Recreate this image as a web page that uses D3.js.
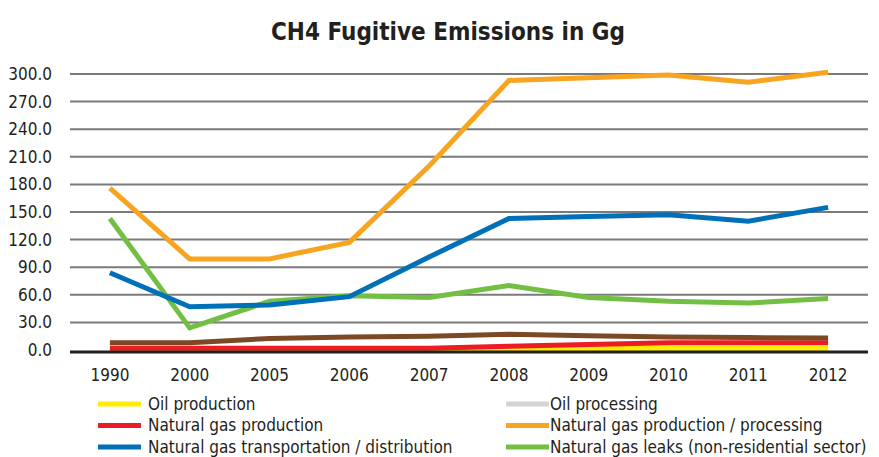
<!DOCTYPE html>
<html>
<head>
<meta charset="utf-8">
<script src="https://cdn.jsdelivr.net/npm/d3@7"></script>
<style>
  body { margin: 0; background: #fff; }
  text { font-family: "Liberation Sans Narrow", "Arial Narrow", "DejaVu Sans Condensed", sans-serif; fill: #231f20; }
</style>
</head>
<body>
<div id="target"></div>
<script>
const width = 879;
const height = 457;

const years = ['1990', '2000', '2005', '2006', '2007', '2008', '2009', '2010', '2011', '2012'];
const yTicks = [0, 30, 60, 90, 120, 150, 180, 210, 240, 270, 300];

const oilProduction = [0, 0, 0, 0, 0, 0.5, 1.5, 2, 2, 2];
const oilProcessing = [0, 0, 0, 0, 0, 0, 0, 0, 0, 0];
const gasProduction = [2, 2, 2, 2, 2, 4, 6, 8, 8, 8];
const gasProcessing = [176, 99, 99, 117, 200, 293, 296, 299, 291, 302];
const gasTransport = [84, 47, 49, 58, 101, 143, 145, 147, 140, 155];
const gasLeaks = [143, 24, 53, 59, 57, 70, 57, 53, 51, 56];
const oilTransport = [8, 8, 12.5, 14, 15, 17, 15.5, 14, 13.5, 13];

const series = [
  { name: 'Oil processing', values: oilProcessing, color: '#d1d3d4' },
  { name: 'Oil production', values: oilProduction, color: '#ffed00' },
  { name: 'Natural gas production', values: gasProduction, color: '#ed1c24' },
  { name: 'Oil transportation', values: oilTransport, color: '#7b4a25' },
  { name: 'Natural gas leaks (non-residential sector)', values: gasLeaks, color: '#72bf44' },
  { name: 'Natural gas transportation / distribution', values: gasTransport, color: '#0070b9' },
  { name: 'Natural gas production / processing', values: gasProcessing, color: '#f7a520' },
];

const legendOrder = [
  'Oil production', 'Oil processing',
  'Natural gas production', 'Natural gas production / processing',
  'Natural gas transportation / distribution', 'Natural gas leaks (non-residential sector)',
];

const svg = d3.select('#target').append('svg').attr('width', width).attr('height', height);

const x = d3.scaleBand().domain(years).range([70, 868]);
const y = d3.scaleLinear().domain([0, 300]).range([350, 74]);

svg.append('text')
  .attr('x', 448)
  .attr('y', 40)
  .attr('text-anchor', 'middle')
  .style('font-size', '24px')
  .style('font-weight', 'bold')
  .text('CH4 Fugitive Emissions in Gg');

// grid
svg.append('g')
  .selectAll('line')
  .data(yTicks.filter((d) => d > 0))
  .enter()
  .append('line')
  .attr('x1', 70)
  .attr('x2', 868)
  .attr('y1', (d) => y(d))
  .attr('y2', (d) => y(d))
  .attr('stroke', '#7a7a7a')
  .attr('stroke-width', 2);

const yAxis = svg.append('g')
  .attr('transform', 'translate(62,0)')
  .call(d3.axisLeft(y).tickValues(yTicks).tickFormat(d3.format('.1f')).tickSize(0).tickPadding(10));
yAxis.select('.domain').remove();
yAxis.selectAll('text').style('font-size', '17px').style('font-family', null);

const xAxis = svg.append('g')
  .attr('transform', 'translate(0,351)')
  .call(d3.axisBottom(x).tickSize(0).tickPadding(18));
xAxis.select('.domain').remove();
xAxis.selectAll('text').style('font-size', '17px').style('font-family', null);

const line = d3.line()
  .x((d, i) => x(years[i]) + x.bandwidth() / 2)
  .y((d) => y(d));

svg.append('g')
  .selectAll('path')
  .data(series)
  .enter()
  .append('path')
  .attr('d', (d) => line(d.values))
  .attr('fill', 'none')
  .attr('stroke', (d) => d.color)
  .attr('stroke-width', 5)
  .attr('stroke-linejoin', 'miter');

svg.append('line')
  .attr('x1', 70)
  .attr('x2', 868)
  .attr('y1', 352)
  .attr('y2', 352)
  .attr('stroke', '#231f20')
  .attr('stroke-width', 3);

// legend
const legendItems = legendOrder.map((name) => series.find((s) => s.name === name));
const legend = svg.append('g')
  .selectAll('g')
  .data(legendItems)
  .enter()
  .append('g')
  .attr('transform', (d, i) => `translate(${i % 2 === 0 ? 98 : 506},${404 + Math.floor(i / 2) * 21.5})`);

legend.append('line')
  .attr('x1', 0)
  .attr('x2', 43)
  .attr('stroke', (d) => d.color)
  .attr('stroke-width', 5);

legend.append('text')
  .attr('x', (d, i) => (i % 2 === 0 ? 50 : 44))
  .attr('dy', '0.35em')
  .style('font-size', '17px')
  .text((d) => d.name);
</script>
</body>
</html>
